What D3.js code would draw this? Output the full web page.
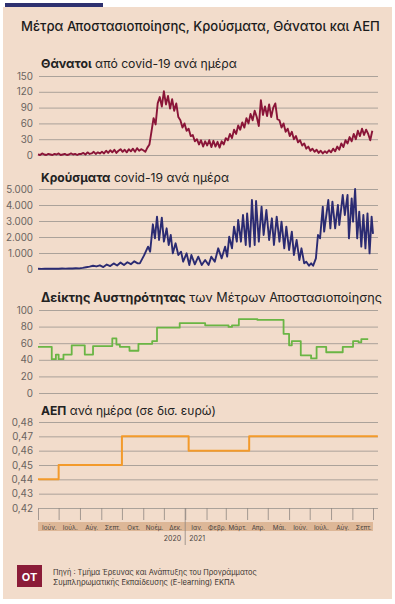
<!DOCTYPE html>
<html lang="el">
<head>
<meta charset="utf-8">
<title>Μέτρα Αποστασιοποίησης, Κρούσματα, Θάνατοι και ΑΕΠ</title>
<script src="https://cdnjs.cloudflare.com/ajax/libs/d3/7.8.5/d3.min.js"></script>
<style>
  body { margin: 0; background: #fff; }
  svg { display: block; font-family: "Inter", "Roboto", sans-serif; }
</style>
</head>
<body>
<script>
// ---- data ----
const startDay = "2020-06-01";

// deaths per day, one value every 3 days from startDay
const deathsEvery3 = [
  1,0,3,1,0,2,1,0,2,1,3,0,1,2,0,1,3,1,2,0,2,
  2,4,1,5,2,3,6,2,5,3,
  6,3,8,4,9,5,10,4,8,11,
  6,10,5,11,7,12,6,13,8,11,
  9,6,14,20,45,70,58,98,110,92,121,96,112,88,106,84,98,72,66,52,
  60,46,50,36,38,26,30,20,28,16,26,18,28,15,27,16,25,14,26,20,
  32,28,40,32,48,40,56,48,62,52,70,60,78,66,84,72,55,
  104,
  76,92,74,96,72,90,98,68,
  66,52,60,44,50,36,44,30,36,24,28,18,22,12,16,8,12,6,10,4,8,3,7,4,9,5,12,7,
  16,10,22,15,28,22,34,26,40,30,46,36,50,38,48,40,28,46
];

// cases per day: [day after startDay, value]
const casesPoints = [
  [0,15],[5,10],[10,20],[15,12],[20,25],[25,15],[30,20],[35,30],[40,25],[45,40],[50,35],[55,45],
  [60,40],[65,70],[70,110],[75,150],[80,200],[85,160],[90,230],[95,120],[100,280],[105,180],
  [110,350],[115,220],[120,400],[125,250],[130,420],[135,300],[140,480],[145,350],[148,354],
  [154,833],[160,1396],[163,1083],[167,2792],[170,1917],[173,3271],[176,1812],[180,3208],
  [183,1708],[187,2542],[190,1500],[193,2125],[196,979],[200,1604],[204,875],[208,1083],
  [211,458],[216,979],[220,250],[223,875],[228,292],[233,771],[238,250],[243,562],[248,250],
  [252,771],[257,458],[262,1292],[267,667],[272,1396],[275,771],[278,2021],[282,1292],
  [285,2646],[289,1708],[291,3062],[295,1708],[298,3375],[302,1500],[304,3479],[308,1396],
  [311,4312],[315,1500],[317,4250],[321,1708],[325,3896],[328,2125],[332,3687],[336,1812],
  [340,3167],[343,1500],[347,3271],[351,1708],[354,2958],[358,1292],[361,2646],[365,1187],
  [369,2333],[372,875],[376,1812],[380,562],[383,1292],[387,354],[390,458],[394,208],
  [397,354],[400,208],[404,667],[407,2125],[410,1917],[414,3896],[416,2333],[422,4312],
  [425,2542],[428,4208],[432,2542],[436,4000],[438,2750],[443,4625],[446,3375],[450,4625],
  [452,1917],[456,4417],[458,2958],[461,5000],[464,1917],[467,3583],[470,1396],[473,3375],
  [476,1292],[479,3479],[482,979],[485,3271],[487,2200]
];

// stringency index, step changes
const stringencySteps = [
  ["2020-06-01",55.6],["2020-06-21",40.7],["2020-06-27",46.3],["2020-07-01",40.7],
  ["2020-07-08",46.3],["2020-07-20",57.4],["2020-08-08",46.3],["2020-08-20",56.5],
  ["2020-09-17",65.7],["2020-09-23",58.3],["2020-09-28",55.6],["2020-10-12",50.9],
  ["2020-10-25",59.3],["2020-11-14",62.5],["2020-11-21",78.7],["2020-12-24",84.3],
  ["2021-01-30",81.5],["2021-03-05",79.6],["2021-03-10",81.5],["2021-03-20",88.9],
  ["2021-04-16",88.0],["2021-05-24",71.3],["2021-06-01",57.4],["2021-06-05",62.5],
  ["2021-06-18",45.4],["2021-07-03",41.7],["2021-07-11",55.6],["2021-07-25",49.1],
  ["2021-08-18",55.6],["2021-09-02",62.5],["2021-09-10",61.0],["2021-09-14",64.8],
  ["2021-09-24",64.8]
];

// GDP per day (bn euro), step changes
const gdpSteps = [
  ["2020-06-01",0.44],["2020-07-01",0.45],["2020-10-01",0.47],["2021-01-06",0.46],
  ["2021-04-04",0.47],["2021-10-08",0.47]
];

const monthLabels = ["Ιούν.","Ιούλ.","Αύγ.","Σεπτ.","Οκτ.","Νοέμ.","Δεκ.","Ιαν.","Φεβρ.","Μάρτ.","Απρ.","Μάι.","Ιούν.","Ιούλ.","Αύγ.","Σεπτ."];
const yearLabels = ["2020","2021"];

const deathTicks = [0,30,60,90,120,150];
const casesTicks = [0,1000,2000,3000,4000,5000];
const stringTicks = [0,20,40,60,80,100];
const gdpTicks = [0.42,0.43,0.44,0.45,0.46,0.47,0.48];

// ---- setup ----
const W = 395, H = 604;
const parse = d3.timeParse("%Y-%m-%d");
const t0 = parse(startDay);
const gr = d3.formatLocale({decimal: ",", thousands: ".", grouping: [3], currency: ["", "€"]});

const svg = d3.select("body").append("svg").attr("width", W).attr("height", H);

svg.append("rect").attr("x", 3).attr("y", 7).attr("width", 389).attr("height", 592).attr("fill", "#f2dccb");
svg.append("rect").attr("x", 5).attr("y", 3).attr("width", 98).attr("height", 4).attr("fill", "#2e3170");

const x = d3.scaleTime().domain([t0, new Date(2021, 9, 1)]).range([38, 373]);
const gridEnd = 378;

function fit(sel, target) {
  const w = sel.node().getComputedTextLength();
  const fs = parseFloat(sel.attr("font-size"));
  sel.attr("font-size", (fs * target / w).toFixed(2));
}

const title = svg.append("text").attr("x", 21).attr("y", 31).attr("font-size", 15)
  .attr("font-weight", 500).attr("fill", "#1b1b1b")
  .text("Μέτρα Αποστασιοποίησης, Κρούσματα, Θάνατοι και ΑΕΠ");
fit(title, 359);

function subtitle(y, bold, rest, width) {
  const t = svg.append("text").attr("x", 41).attr("y", y).attr("font-size", 13).attr("fill", "#222");
  t.append("tspan").attr("font-weight", 700).text(bold);
  t.append("tspan").attr("font-weight", 400).text(" " + rest);
  fit(t, width);
}

function panel(cfg) {
  const y = d3.scaleLinear().domain(cfg.domain).range(cfg.range);
  const ax = svg.append("g").attr("transform", "translate(39,0)")
    .call(d3.axisLeft(y).tickValues(cfg.ticks).tickSize(-(gridEnd - 39)).tickPadding(6).tickFormat(cfg.fmt));
  ax.select(".domain").remove();
  ax.selectAll("line").attr("stroke", "#a39b94").attr("stroke-width", 0.9);
  ax.selectAll("text").attr("fill", "#6b6460").attr("font-size", 9.8).attr("font-family", "Inter, Roboto, sans-serif");
  const line = d3.line().x(d => x(d[0])).y(d => y(d[1]));
  if (cfg.curve) line.curve(cfg.curve);
  svg.append("path").datum(cfg.data).attr("fill", "none").attr("stroke", cfg.color)
    .attr("stroke-width", cfg.sw).attr("stroke-linejoin", "round").attr("d", line);
  return y;
}

subtitle(68, "Θάνατοι", "από covid-19 ανά ημέρα", 196);
panel({
  domain: [0, 150], range: [155, 76], ticks: deathTicks, fmt: d3.format("d"),
  data: deathsEvery3.map((v, i) => [d3.timeDay.offset(t0, i * 3), v]),
  color: "#8a1538", sw: 1.9
});

subtitle(182, "Κρούσματα", "covid-19 ανά ημέρα", 188);
panel({
  domain: [0, 5000], range: [269, 189], ticks: casesTicks, fmt: gr.format(",d"),
  data: casesPoints.map(d => [d3.timeDay.offset(t0, d[0]), d[1]]),
  color: "#2b2b72", sw: 1.9
});

subtitle(302, "Δείκτης Αυστηρότητας", "των Μέτρων Αποστασιοποίησης", 341);
panel({
  domain: [0, 100], range: [393, 310], ticks: stringTicks, fmt: d3.format("d"),
  data: stringencySteps.map(d => [parse(d[0]), d[1]]), curve: d3.curveStepAfter,
  color: "#6ab544", sw: 1.8
});

subtitle(415, "ΑΕΠ", "ανά ημέρα (σε δισ. ευρώ)", 175);
panel({
  domain: [0.42, 0.48], range: [508, 422], ticks: gdpTicks, fmt: gr.format(".2f"),
  data: gdpSteps.map(d => [parse(d[0]), d[1]]), curve: d3.curveStepAfter,
  color: "#f39a2b", sw: 2
});

// month band + ticks
const months = d3.timeMonth.range(t0, new Date(2021, 9, 2));
svg.append("rect").attr("x", 38).attr("y", 522).attr("width", 335).attr("height", 9).attr("fill", "#ddb797");
const xa = svg.append("g").attr("transform", "translate(0,508)")
  .call(d3.axisBottom(x).tickValues(months).tickSize(12).tickFormat(""));
xa.select(".domain").remove();
xa.selectAll("line").attr("stroke", "#8f8781").attr("stroke-width", 0.8);

svg.append("g").selectAll("text").data(monthLabels).join("text")
  .attr("x", (d, i) => (x(months[i]) + x(months[i + 1])) / 2 + 1)
  .attr("y", 529.5).attr("text-anchor", "middle").attr("font-size", 6.3)
  .attr("fill", "#4a4440").text(d => d);

const jan = new Date(2021, 0, 1);
svg.append("line").attr("x1", x(jan)).attr("x2", x(jan)).attr("y1", 508).attr("y2", 545)
  .attr("stroke", "#8f8781").attr("stroke-width", 0.8);
svg.append("text").attr("x", x(jan) - 4).attr("y", 541).attr("text-anchor", "end")
  .attr("font-size", 7).attr("fill", "#4a4440").text(yearLabels[0]);
svg.append("text").attr("x", x(jan) + 4).attr("y", 541)
  .attr("font-size", 7).attr("fill", "#4a4440").text(yearLabels[1]);

// footer
svg.append("rect").attr("x", 17).attr("y", 565).attr("width", 25).attr("height", 22).attr("fill", "#8b1c38");
svg.append("text").attr("x", 29.5).attr("y", 580.5).attr("text-anchor", "middle")
  .attr("font-size", 11).attr("font-weight", 700).attr("fill", "#fff").text("OT");
const src1 = svg.append("text").attr("x", 53).attr("y", 575).attr("font-size", 8).attr("fill", "#3a3430")
  .text("Πηγή : Τμήμα Έρευνας και Ανάπτυξης του Προγράμματος");
fit(src1, 204);
const src2 = svg.append("text").attr("x", 53).attr("y", 584.5).attr("font-size", 8).attr("fill", "#3a3430")
  .text("Συμπληρωματικής Εκπαίδευσης (E-learning) ΕΚΠΑ");
fit(src2, 182);
</script>
</body>
</html>
